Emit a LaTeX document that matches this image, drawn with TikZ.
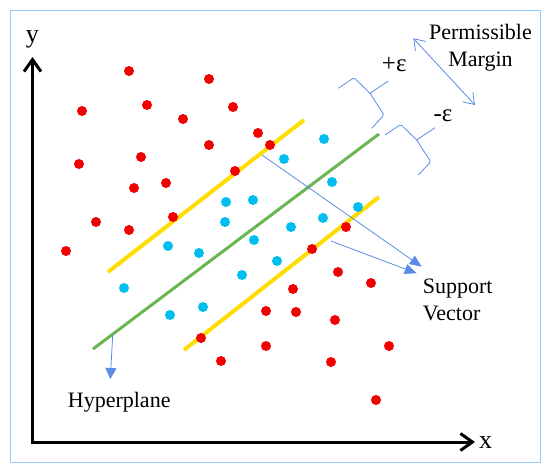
\documentclass[tikz,border=0pt]{standalone}
\usepackage{fontspec}
\setmainfont{Liberation Serif}
\usetikzlibrary{arrows.meta}
\definecolor{framecol}{RGB}{150,200,250}
\definecolor{svmblue}{RGB}{90,140,230}
\definecolor{dotred}{RGB}{240,0,0}
\definecolor{dotcyan}{RGB}{0,190,240}
\definecolor{hypgreen}{RGB}{104,182,84}
\definecolor{bandyellow}{RGB}{255,221,0}
\begin{document}
\begin{tikzpicture}[x=1pt,y=-1pt,
  lbl/.style={inner sep=0pt,font=\fontsize{22}{26.7}\selectfont},
  axlbl/.style={inner sep=0pt,font=\fontsize{26}{30}\selectfont},
  epslbl/.style={inner sep=0pt,font=\fontsize{25}{30}\selectfont},
  thin blue/.style={svmblue,line width=0.8pt},
  pointer/.style={thin blue,-{Triangle[length=12pt,width=10pt]}},
  band/.style={bandyellow,line width=4pt}]
\useasboundingbox(0,0)rectangle(550,471);
\draw[framecol,line width=1pt](10.5,10.5)rectangle(540.5,462);
%axes
\coordinate(o)at(32.5,442);
\coordinate(ytip)at(32.5,57);
\coordinate(xtip)at(475,442);
\draw[line width=3pt,{Straight Barb[length=12pt,width=17pt]}-{Straight Barb[length=12pt,width=17pt]}](ytip)--(o)--(xtip);
\node[axlbl,anchor=base](ylab)at(32.3,42.7){y};
\node[axlbl,anchor=base](xlab)at(485.7,448.3){x};
%margin lines and hyperplane
\coordinate(u1)at(108,272);\coordinate(u2)at(304,120);
\coordinate(h1)at(93,349);\coordinate(h2)at(379,134);
\coordinate(l1)at(184,350);\coordinate(l2)at(379,197);
\draw[band](u1)--(u2);
\draw[band](l1)--(l2);
\draw[hypgreen,line width=3pt](h1)--(h2);
%data points
\foreach \x/\y in {129/71,209/79,82/111,147/105,233/107,183/119,258/133,270/145,
  209/145,141/157,79/164,235/171,166/183,134/188,96/222,129/230,173/217,66/251,
  346/227,312/249,338/272,371/283,293/289,296/312,335/320,389/346,331/362,
  376/400,266/311,266/346,221/361,201/338}{\fill[dotred](\x,\y)circle(5pt);}
\foreach \x/\y in {324/139,284/159,332/182,358/207,323/218,291/227,226/202,
  253/200,225/222,254/240,199/253,168/246,277/261,242/275,124/288,203/307,
  170/315}{\fill[dotcyan](\x,\y)circle(5pt);}
%pointers
\coordinate(sv1)at(262,155);\coordinate(sv1e)at(421.7,266.7);
\coordinate(sv2)at(331,241);\coordinate(sv2e)at(416.7,273.3);
\coordinate(hp)at(112.7,335);\coordinate(hpe)at(110.3,379);
\coordinate(mg1)at(413.3,38.3);\coordinate(mg2)at(475,105);
\draw[pointer](sv1)--(sv1e);
\draw[pointer](sv2)--(sv2e);
\draw[thin blue,-{Triangle[length=11pt,width=11pt]}](hp)--(hpe);
\draw[thin blue,{Straight Barb[length=10pt,width=14pt]}-{Straight Barb[length=10pt,width=14pt]}](mg1)--(mg2);
%epsilon brackets
\foreach \s in {0,46.7}{
\draw[thin blue,shift={(\s,\s)},rounded corners=1.5pt](338.3,88.3)--(354,77.7)--(370,93.3)--(384,115)--(371.7,128.3);
\draw[thin blue,shift={(\s,\s)}](370,93.3)--(388.3,81);}
%labels
\node[lbl,anchor=base west](hyper)at(67.7,407.7){Hyperplane};
\node[lbl,align=left,anchor=base west](support)at(422.7,320){Support\\Vector};
\node[lbl,align=center,anchor=base](margin)at(480.5,66){Permissible\\Margin};
\node[epslbl,anchor=base west](peps)at(381.7,71){+ε};
\node[epslbl,anchor=base west](meps)at(433.3,121.7){-ε};
\end{tikzpicture}
\end{document}
